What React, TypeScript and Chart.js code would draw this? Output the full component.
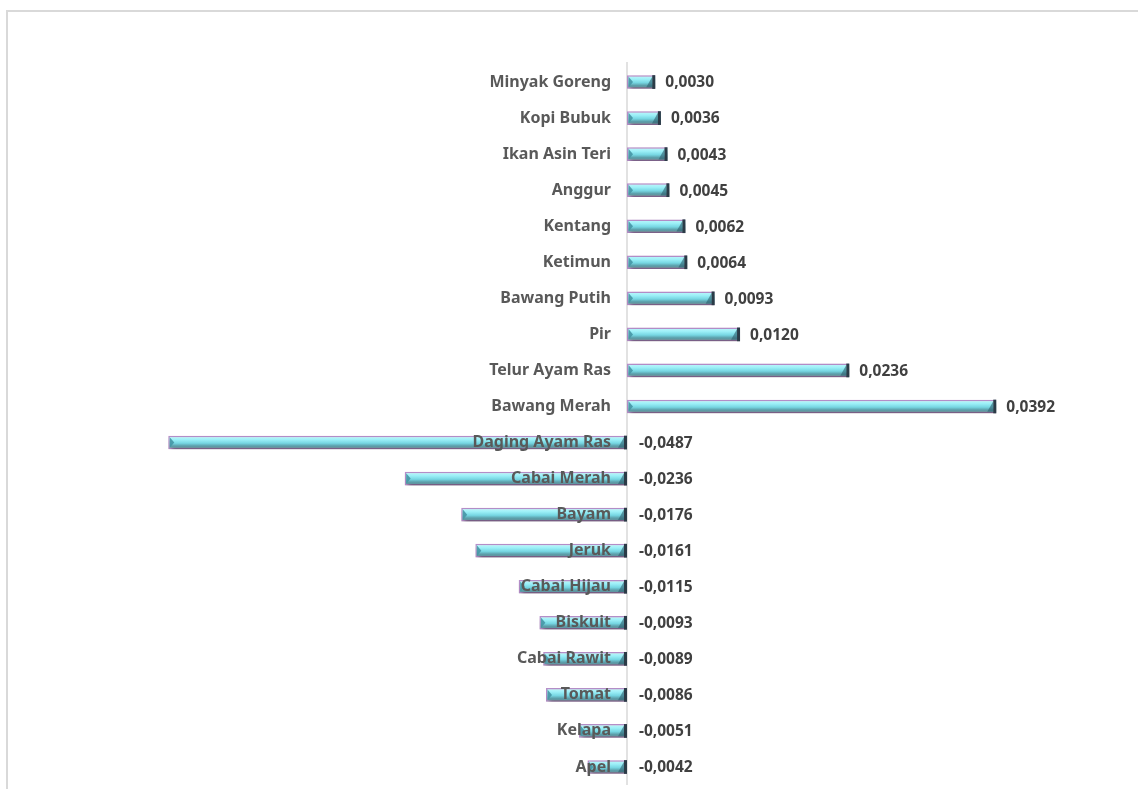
import React, { useEffect, useRef } from 'react';
import { Chart, registerables } from 'chart.js';

Chart.register(...registerables);

const categories = [
  'Minyak Goreng',
  'Kopi Bubuk',
  'Ikan Asin Teri',
  'Anggur',
  'Kentang',
  'Ketimun',
  'Bawang Putih',
  'Pir',
  'Telur Ayam Ras',
  'Bawang Merah',
  'Daging Ayam Ras',
  'Cabai Merah',
  'Bayam',
  'Jeruk',
  'Cabai Hijau',
  'Biskuit',
  'Cabai Rawit',
  'Tomat',
  'Kelapa',
  'Apel',
];

const values = [
  0.003, 0.0036, 0.0043, 0.0045, 0.0062, 0.0064, 0.0093, 0.012, 0.0236, 0.0392,
  -0.0487, -0.0236, -0.0176, -0.0161, -0.0115, -0.0093, -0.0089, -0.0086, -0.0051, -0.0042,
];

const axisMin = -0.05;
const axisMax = 0.05;

const FONT = '"Noto Sans", "DejaVu Sans", sans-serif';

const fmt = (v: number) => v.toFixed(4).replace('.', ',');

const decorPlugin = {
  id: 'decor',
  beforeDatasetsDraw(chart: any) {
    const { ctx, chartArea, scales } = chart;
    const x0 = scales.x.getPixelForValue(0);
    ctx.save();
    ctx.strokeStyle = '#d9d9d9';
    ctx.lineWidth = 1.5;
    ctx.beginPath();
    ctx.moveTo(x0, chartArea.top - 2);
    ctx.lineTo(x0, chartArea.bottom);
    ctx.stroke();
    ctx.restore();
    ctx.save();
    ctx.shadowColor = 'rgba(0,0,0,0.4)';
    ctx.shadowBlur = 4;
    ctx.shadowOffsetX = 2;
    ctx.shadowOffsetY = 3;
  },
  afterDatasetsDraw(chart: any) {
    const { ctx, scales } = chart;
    ctx.restore();
    const meta = chart.getDatasetMeta(0);
    const x0 = scales.x.getPixelForValue(0);
    meta.data.forEach((el: any) => {
      const { x, y, base, height } = el.getProps(['x', 'y', 'base', 'height'], true);
      const left = Math.min(x, base);
      const right = Math.max(x, base);
      const top = y - height / 2;
      const bottom = y + height / 2;
      ctx.save();
      ctx.fillStyle = 'rgba(70,150,165,0.9)';
      ctx.beginPath();
      ctx.moveTo(left + 1.5, top + 1.5);
      ctx.lineTo(left + 6, y);
      ctx.lineTo(left + 1.5, bottom - 1.5);
      ctx.closePath();
      ctx.fill();
      ctx.fillStyle = 'rgba(45,95,110,0.6)';
      ctx.beginPath();
      ctx.moveTo(right - 3, top + 1.5);
      ctx.lineTo(right - 3, bottom - 1.5);
      ctx.lineTo(right - 9, bottom - 1.5);
      ctx.closePath();
      ctx.fill();
      ctx.fillStyle = '#2b3b47';
      ctx.fillRect(right - 3, top, 3, height);
      ctx.restore();
    });

    ctx.save();
    ctx.font = `bold 16px ${FONT}`;
    ctx.textAlign = 'right';
    ctx.textBaseline = 'middle';
    ctx.fillStyle = '#595959';
    categories.forEach((c, i) => {
      const y = scales.y.getPixelForValue(i);
      ctx.fillText(c, x0 - 16, y);
    });

    ctx.font = `bold 15.5px ${FONT}`;
    ctx.fillStyle = '#404040';
    ctx.textAlign = 'left';
    values.forEach((v, i) => {
      const el = meta.data[i];
      const xx = v >= 0 ? el.x + 10 : x0 + 12;
      ctx.fillText(fmt(v), xx, el.y + 1);
    });
    ctx.restore();
  },
};

export default function App() {
  const canvasRef = useRef<HTMLCanvasElement | null>(null);

  useEffect(() => {
    if (!canvasRef.current) return;
    const chart = new Chart(canvasRef.current, {
      type: 'bar',
      data: {
        labels: categories,
        datasets: [
          {
            data: values,
            backgroundColor: (c: any) => {
              const ch = c.chart;
              const ys = ch.scales?.y;
              if (c.dataIndex === undefined || !ys) return '#8fe9f3';
              const y = ys.getPixelForValue(c.dataIndex);
              if (!Number.isFinite(y)) return '#8fe9f3';
              const h = 14;
              const g = ch.ctx.createLinearGradient(0, y - h / 2, 0, y + h / 2);
              g.addColorStop(0, '#c6f8fc');
              g.addColorStop(0.3, '#9beff7');
              g.addColorStop(0.55, '#76d6e2');
              g.addColorStop(0.75, '#5b9ea9');
              g.addColorStop(1, '#6a8a96');
              return g;
            },
            borderColor: '#b68fca',
            borderWidth: { top: 1.5, left: 1.5, bottom: 1.5, right: 0 },
            borderSkipped: false,
            categoryPercentage: 1,
            barPercentage: 0.38,
          },
        ],
      },
      options: {
        indexAxis: 'y',
        animation: false,
        responsive: true,
        maintainAspectRatio: false,
        layout: { padding: { left: 148, right: 40, top: 52, bottom: 4 } },
        plugins: {
          legend: { display: false },
          tooltip: { enabled: false },
        },
        scales: {
          x: { display: false, min: axisMin, max: axisMax },
          y: { display: false },
        },
      },
      plugins: [decorPlugin],
    } as any);
    return () => chart.destroy();
  }, []);

  return (
    <div
      style={{
        position: 'fixed',
        left: 6,
        top: 10,
        right: 0,
        bottom: 0,
        borderLeft: '2px solid #d9d9d9',
        borderTop: '2px solid #d9d9d9',
        background: '#fff',
      }}
    >
      <div style={{ position: 'relative', width: '100%', height: '100%' }}>
        <canvas ref={canvasRef} />
      </div>
    </div>
  );
}
